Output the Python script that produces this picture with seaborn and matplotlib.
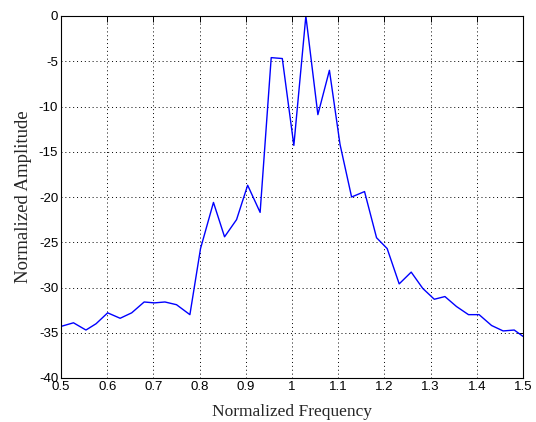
import matplotlib
matplotlib.use("Agg")
import matplotlib.pyplot as plt
import seaborn as sns
import pandas as pd

# Spectrum samples (normalized frequency, normalized amplitude in dB)
freq = [0.500, 0.527, 0.554, 0.576, 0.601, 0.628, 0.653, 0.680, 0.702, 0.725,
        0.750, 0.779, 0.802, 0.830, 0.854, 0.880, 0.904, 0.931, 0.955, 0.979,
        1.004, 1.030, 1.056, 1.081, 1.104, 1.129, 1.157, 1.183, 1.206, 1.232,
        1.258, 1.283, 1.308, 1.331, 1.356, 1.382, 1.405, 1.432, 1.457, 1.481,
        1.500]
amp = [-34.3, -33.9, -34.7, -34.0, -32.8, -33.4, -32.8, -31.6, -31.7, -31.6,
       -31.9, -33.0, -25.7, -20.6, -24.4, -22.5, -18.7, -21.7, -4.6, -4.7,
       -14.3, 0.0, -10.9, -6.0, -14.2, -20.0, -19.4, -24.5, -25.7, -29.6,
       -28.3, -30.1, -31.3, -31.0, -32.1, -33.0, -33.0, -34.2, -34.8, -34.7,
       -35.4]
xticks = [0.5, 0.6, 0.7, 0.8, 0.9, 1.0, 1.1, 1.2, 1.3, 1.4, 1.5]
xticklabels = ["0.5", "0.6", "0.7", "0.8", "0.9", "1", "1.1", "1.2", "1.3", "1.4", "1.5"]
yticks = [-40, -35, -30, -25, -20, -15, -10, -5, 0]

df = pd.DataFrame({"freq": freq, "amp": amp})

sns.set_style("white")
plt.rcParams["font.family"] = ["Liberation Sans", "DejaVu Sans"]
plt.rcParams["axes.unicode_minus"] = False

fig = plt.figure(figsize=(5.36, 4.22), dpi=100)
ax = fig.add_axes([61 / 536, 44 / 422, 462 / 536, 362 / 422])

sns.lineplot(data=df, x="freq", y="amp", ax=ax, color="#0000ff",
             linewidth=1.0, sort=False, estimator=None)

ax.set_xlim(0.5, 1.5)
ax.set_ylim(-40, 0)
ax.set_xticks(xticks)
ax.set_xticklabels(xticklabels)
ax.set_yticks(yticks)
ax.grid(True, color="black", linestyle=(0, (1, 3)), linewidth=0.7)
ax.tick_params(direction="in", length=4, width=0.7, labelsize=9.5,
               top=True, right=True, colors="black", pad=2)
for s in ax.spines.values():
    s.set_color("black")
    s.set_linewidth(0.8)

serif = ["Liberation Serif", "DejaVu Serif"]
ax.set_xlabel("Normalized Frequency", fontsize=12.5, family=serif, labelpad=8)
ax.set_ylabel("Normalized Amplitude", fontsize=13.5, family=serif, labelpad=5)

fig.savefig("out.png", dpi=100)
